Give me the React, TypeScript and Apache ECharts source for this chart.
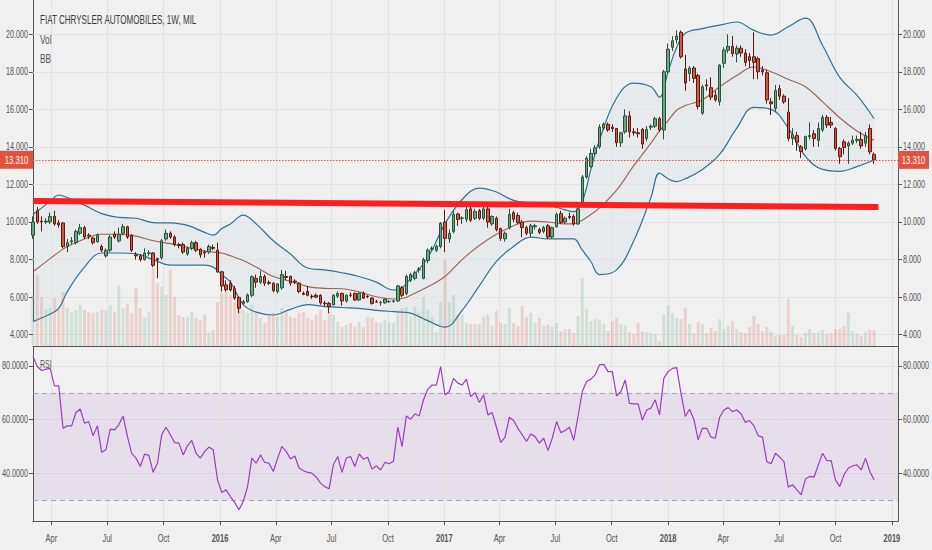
import React, { useEffect, useRef } from 'react';
import * as echarts from 'echarts';

const TITLE = 'FIAT CHRYSLER AUTOMOBILES, 1W, MIL';
const LEGEND = ['Vol', 'BB'];
const RSI_TITLE = 'RSI';
const START_DATE = '2015-03-02';
const X_MIN = '2015-03-02';
const X_MAX = '2019-01-11';
const X_TICKS = ['2015-04-01', '2015-07-01', '2015-10-01', '2016-01-01', '2016-04-01', '2016-07-01', '2016-10-01', '2017-01-01', '2017-04-01', '2017-07-01', '2017-10-01', '2018-01-01', '2018-04-01', '2018-07-01', '2018-10-01', '2019-01-01'];
const MONTHS = ['Jan', 'Feb', 'Mar', 'Apr', 'May', 'Jun', 'Jul', 'Aug', 'Sep', 'Oct', 'Nov', 'Dec'];
const PRICE_TICKS = [4, 6, 8, 10, 12, 14, 16, 18, 20];
const RSI_TICKS = [40, 60, 80];
const LAST_PRICE = 13.31;
const TREND_LINE: [string, number][] = [['2015-03-02', 11.12], ['2018-12-10', 10.8]];

const OPEN = [9.3, 10.6, 10.05, 10.0, 10.0, 10.3, 9.95, 9.95, 8.7, 8.95, 8.9, 9.4, 9.7, 9.3, 9.15, 8.95, 8.7, 8.2, 8.5, 9.35, 9.0, 9.4, 9.75, 9.3, 8.25, 8.2, 8.0, 8.33, 8.35, 8.05, 8.1, 9.1, 9.4, 9.2, 8.8, 8.8, 8.3, 8.6, 8.9, 8.55, 8.4, 8.4, 8.65, 8.5, 7.35, 6.65, 6.74, 6.45, 5.99, 5.66, 5.76, 6.1, 7.0, 6.8, 7.1, 6.78, 6.74, 6.3, 6.5, 7.1, 7.1, 6.85, 6.75, 6.2, 6.3, 6.05, 6.1, 6.1, 5.68, 5.67, 5.6, 6.05, 6.2, 5.8, 6.12, 6.2, 5.85, 6.2, 6.05, 5.95, 5.76, 5.71, 5.7, 5.76, 5.78, 5.8, 6.5, 6.2, 6.9, 7.0, 7.45, 7.0, 7.95, 8.55, 8.5, 8.7, 10.0, 9.1, 9.5, 10.43, 10.2, 10.15, 10.7, 10.2, 10.6, 10.2, 10.7, 9.9, 10.2, 9.65, 9.1, 9.7, 10.5, 10.35, 10.0, 9.7, 9.4, 9.75, 9.6, 9.5, 9.8, 9.2, 9.75, 10.45, 10.0, 10.3, 10.3, 9.9, 10.9, 12.4, 12.95, 13.65, 14.0, 15.0, 15.2, 15.05, 14.98, 14.22, 14.8, 15.65, 14.8, 14.75, 14.93, 14.45, 15.05, 15.1, 15.5, 14.9, 18.0, 19.3, 19.7, 20.1, 18.15, 17.9, 18.2, 17.8, 15.8, 17.3, 17.15, 16.75, 16.4, 18.45, 19.15, 19.35, 18.95, 19.25, 19.0, 18.8, 18.8, 18.7, 18.1, 17.95, 16.4, 16.05, 17.1, 16.7, 15.85, 14.45, 14.6, 14.0, 13.9, 14.55, 14.7, 14.35, 14.9, 15.57, 15.3, 14.98, 13.92, 14.27, 14.05, 14.2, 14.35, 14.4, 14.2, 14.98, 13.6];
const CLOSE = [10.0, 10.0, 10.0, 10.05, 10.3, 9.9, 9.85, 8.7, 8.9, 9.0, 9.5, 9.7, 9.2, 9.25, 8.9, 9.3, 8.5, 8.5, 9.2, 9.2, 9.35, 9.75, 9.2, 8.5, 8.2, 8.0, 8.35, 8.36, 7.7, 8.0, 9.0, 9.4, 9.2, 8.8, 8.75, 8.4, 8.6, 8.9, 8.5, 8.25, 8.35, 8.7, 8.6, 7.35, 6.6, 6.4, 6.38, 5.95, 5.41, 5.76, 6.12, 7.09, 6.8, 7.1, 6.74, 6.74, 6.35, 6.7, 7.2, 7.05, 6.75, 6.8, 6.3, 6.15, 6.1, 6.03, 6.0, 5.7, 5.65, 5.5, 6.1, 6.2, 5.8, 6.1, 6.1, 5.85, 6.2, 5.95, 6.03, 5.67, 5.75, 5.72, 5.9, 5.77, 5.8, 6.6, 6.1, 7.1, 7.2, 7.3, 7.5, 8.0, 8.5, 8.6, 8.7, 9.93, 9.13, 9.4, 10.4, 10.14, 10.22, 10.65, 10.1, 10.55, 10.2, 10.7, 10.0, 10.3, 9.6, 9.13, 9.4, 10.4, 10.15, 9.97, 9.7, 9.4, 9.8, 9.8, 9.45, 9.7, 9.2, 9.7, 10.4, 9.97, 10.2, 10.25, 9.9, 10.7, 12.4, 13.4, 13.65, 13.95, 15.05, 15.2, 14.9, 14.98, 14.22, 14.75, 15.65, 14.8, 14.75, 14.7, 14.15, 14.93, 15.1, 15.5, 14.9, 18.0, 19.2, 19.65, 19.9, 18.8, 17.4, 18.2, 17.65, 16.15, 17.2, 17.25, 16.65, 16.5, 18.35, 19.15, 19.35, 18.97, 19.25, 19.0, 18.5, 18.6, 18.5, 18.0, 18.0, 16.5, 16.3, 17.0, 16.7, 16.4, 14.45, 14.65, 14.25, 13.75, 14.55, 14.6, 14.45, 14.98, 15.57, 15.16, 15.16, 13.92, 13.48, 13.97, 14.2, 14.35, 14.4, 14.05, 14.6, 13.74, 13.31];
const LOW = [9.1, 9.9, 9.5, 9.9, 9.9, 9.8, 9.7, 8.6, 8.4, 8.8, 8.8, 9.3, 9.1, 9.1, 8.8, 8.9, 8.4, 8.1, 8.4, 9.1, 8.9, 9.3, 9.1, 8.4, 8.0, 7.9, 7.95, 8.2, 7.6, 7.0, 8.0, 9.0, 9.1, 8.7, 8.6, 8.3, 8.2, 8.5, 8.4, 8.1, 8.1, 8.3, 8.5, 7.3, 6.3, 6.3, 6.3, 5.85, 5.15, 5.6, 5.7, 6.0, 6.5, 6.7, 6.6, 6.65, 6.25, 6.2, 6.4, 6.9, 6.6, 6.7, 6.2, 6.1, 6.05, 5.9, 5.95, 5.6, 5.5, 5.15, 5.55, 5.95, 5.55, 5.7, 6.0, 5.8, 5.8, 5.9, 5.95, 5.6, 5.7, 5.55, 5.65, 5.7, 5.7, 5.75, 6.0, 6.1, 6.8, 6.9, 7.3, 6.95, 7.8, 8.45, 8.4, 8.6, 8.4, 8.9, 9.4, 9.8, 9.9, 10.0, 10.0, 10.1, 10.1, 10.1, 9.7, 9.8, 9.5, 9.0, 8.95, 9.6, 10.0, 9.9, 9.2, 9.3, 9.2, 9.6, 9.35, 9.4, 9.1, 9.1, 9.7, 9.9, 9.9, 10.15, 9.8, 9.85, 10.8, 12.3, 12.9, 13.5, 13.9, 14.9, 14.8, 14.8, 14.0, 14.0, 14.7, 14.5, 14.6, 14.5, 13.9, 14.3, 14.9, 15.0, 14.8, 14.4, 17.9, 19.1, 19.5, 18.7, 17.0, 17.5, 17.4, 16.0, 15.7, 17.0, 16.5, 16.4, 16.2, 18.2, 19.0, 18.8, 18.5, 18.8, 18.3, 18.2, 17.6, 17.6, 17.8, 16.3, 15.7, 15.9, 16.5, 16.3, 14.3, 14.1, 13.8, 13.4, 13.8, 14.4, 14.0, 14.0, 14.8, 15.0, 15.0, 13.8, 13.1, 13.6, 13.1, 14.1, 14.2, 13.9, 14.0, 13.6, 13.1];
const HIGH = [10.3, 10.8, 10.3, 10.2, 10.5, 10.6, 10.1, 10.0, 9.1, 9.2, 9.6, 9.9, 9.8, 9.4, 9.2, 9.4, 8.8, 8.6, 9.3, 9.5, 9.7, 9.9, 9.8, 9.35, 8.4, 8.3, 8.6, 8.5, 8.4, 8.1, 9.1, 9.6, 9.5, 9.3, 8.9, 8.9, 8.7, 9.0, 9.0, 8.6, 8.5, 8.8, 8.8, 8.9, 7.4, 6.9, 6.9, 6.6, 6.05, 5.85, 6.2, 7.15, 7.2, 7.4, 7.2, 6.9, 6.8, 6.75, 7.45, 7.4, 7.15, 6.95, 6.8, 6.3, 6.6, 6.15, 6.2, 6.15, 5.8, 5.75, 6.15, 6.3, 6.25, 6.15, 6.25, 6.25, 6.25, 6.3, 6.1, 6.0, 5.85, 5.8, 5.95, 5.85, 5.85, 6.65, 6.6, 7.2, 7.3, 7.4, 7.6, 8.1, 8.6, 8.7, 8.8, 10.0, 10.65, 9.6, 10.6, 10.5, 10.3, 10.9, 10.8, 10.7, 10.7, 10.8, 10.8, 10.35, 10.3, 9.7, 9.5, 10.7, 10.6, 10.5, 10.1, 9.8, 9.9, 9.9, 9.7, 9.8, 9.9, 9.75, 10.5, 10.6, 10.3, 10.5, 10.4, 10.75, 12.5, 13.5, 13.9, 14.1, 15.2, 15.3, 15.3, 15.2, 15.0, 14.8, 16.0, 15.9, 15.0, 15.0, 15.0, 15.1, 15.2, 15.6, 15.6, 18.1, 19.5, 19.9, 20.2, 20.2, 18.9, 18.3, 18.3, 17.9, 17.3, 17.6, 17.7, 17.0, 18.4, 19.3, 20.0, 19.9, 19.4, 19.4, 19.2, 19.0, 20.1, 18.8, 18.3, 18.1, 16.6, 17.3, 17.3, 16.8, 16.6, 15.0, 14.8, 14.1, 14.6, 15.3, 14.9, 15.3, 15.7, 15.7, 15.6, 15.05, 14.0, 14.4, 14.3, 14.6, 14.6, 14.8, 14.8, 15.2, 13.7];
const VOLUME = [50, 71, 49, 36, 38, 48, 36, 54, 38, 34, 36, 41, 36, 34, 33, 34, 36, 36, 41, 34, 60, 38, 42, 33, 58, 38, 29, 34, 78, 63, 59, 51, 76, 49, 31, 29, 29, 34, 28, 26, 31, 14, 16, 44, 53, 63, 51, 44, 38, 36, 33, 41, 33, 28, 23, 31, 33, 29, 38, 34, 29, 28, 33, 34, 28, 26, 31, 36, 26, 34, 31, 24, 19, 21, 23, 19, 24, 19, 29, 28, 24, 23, 26, 24, 23, 36, 38, 39, 29, 39, 33, 49, 36, 29, 14, 44, 86, 44, 51, 31, 32, 23, 22, 22, 22, 29, 31, 20, 35, 23, 22, 38, 23, 20, 40, 29, 33, 23, 28, 20, 21, 19, 23, 15, 17, 17, 13, 30, 68, 37, 25, 27, 26, 22, 15, 25, 28, 22, 20, 14, 12, 23, 15, 14, 13, 12, 5, 31, 41, 33, 28, 27, 38, 22, 13, 24, 22, 13, 18, 15, 27, 17, 20, 25, 17, 14, 13, 19, 30, 22, 15, 19, 14, 10, 11, 11, 47, 20, 11, 9, 13, 17, 13, 14, 16, 12, 13, 17, 17, 20, 33, 15, 12, 10, 14, 16, 16];
const RSI = [83.5, 79.8, 78.3, 78.8, 79.1, 72.6, 72.6, 56.8, 57.7, 57.7, 62.7, 64.0, 58.7, 59.3, 54.0, 57.7, 47.9, 48.8, 56.5, 56.2, 58.1, 61.4, 53.7, 47.5, 45.7, 42.6, 47.2, 46.7, 40.4, 43.8, 54.4, 57.2, 54.4, 51.5, 51.3, 46.9, 50.3, 52.3, 47.5, 45.7, 48.2, 49.8, 48.8, 37.6, 32.9, 33.9, 31.4, 29.2, 26.5, 29.6, 35.1, 45.7, 43.8, 46.9, 44.1, 43.8, 40.7, 45.7, 50.0, 48.2, 45.4, 46.5, 42.0, 41.0, 40.4, 40.1, 38.6, 36.4, 35.1, 34.3, 43.2, 46.3, 40.4, 45.7, 46.3, 42.6, 47.3, 45.3, 46.0, 41.6, 42.8, 41.3, 44.1, 43.6, 44.5, 57.2, 50.0, 61.4, 60.2, 62.2, 61.4, 67.4, 71.3, 72.9, 72.9, 79.8, 69.2, 70.5, 75.4, 73.6, 72.9, 75.1, 68.6, 70.1, 66.4, 69.2, 61.8, 62.7, 57.2, 51.5, 53.5, 60.9, 59.7, 56.8, 54.4, 51.9, 54.7, 53.7, 51.3, 53.1, 48.5, 53.1, 59.3, 55.2, 56.0, 57.2, 52.3, 61.2, 70.5, 74.2, 75.1, 76.7, 80.4, 80.6, 77.9, 77.9, 68.9, 70.5, 74.8, 66.1, 65.9, 65.9, 59.9, 63.6, 64.3, 67.4, 61.8, 75.4, 77.9, 79.1, 79.4, 69.8, 61.2, 63.9, 60.2, 52.5, 56.8, 56.8, 53.5, 53.1, 60.9, 63.6, 64.5, 63.0, 63.6, 62.2, 59.0, 59.7, 57.7, 54.0, 53.5, 44.4, 43.6, 47.5, 46.1, 44.4, 34.9, 35.8, 33.9, 32.0, 37.9, 38.9, 38.6, 43.2, 47.5, 44.8, 44.8, 37.6, 35.1, 39.5, 42.0, 42.8, 43.2, 41.3, 45.7, 40.7, 37.6];

const BB_WEEK = [0, 4, 6, 8, 12, 16, 20, 24, 28, 32, 36, 40, 42, 44, 46, 49, 52, 56, 60, 64, 68, 72, 76, 80, 84, 86, 88, 92, 96, 100, 104, 108, 112, 116, 120, 124, 126, 128, 130, 132, 136, 140, 144, 146, 148, 150, 152, 156, 160, 164, 168, 172, 176, 180, 184, 188, 192, 196];
const BB_UPPER = [10.4, 11.1, 11.44, 11.3, 10.9, 10.45, 10.25, 10.2, 9.97, 9.95, 9.82, 9.45, 9.3, 9.65, 9.9, 10.37, 9.9, 9.0, 8.3, 7.55, 7.45, 7.3, 7.1, 6.8, 6.38, 6.5, 7.0, 8.1, 9.9, 11.2, 11.8, 11.6, 11.15, 11.0, 10.9, 10.65, 10.55, 11.1, 12.8, 14.36, 16.6, 17.4, 17.2, 16.65, 18.0, 19.3, 20.05, 20.3, 20.48, 20.65, 20.2, 19.95, 20.4, 20.85, 19.4, 17.7, 16.75, 15.5];
const BB_BASIS = [7.35, 8.05, 8.4, 8.7, 9.1, 9.35, 9.35, 9.25, 9.0, 8.85, 8.65, 8.45, 8.4, 8.35, 8.2, 7.95, 7.6, 7.1, 6.85, 6.56, 6.47, 6.45, 6.28, 6.02, 5.9, 5.93, 6.1, 6.55, 7.1, 8.0, 8.75, 9.35, 9.8, 10.05, 10.0, 9.9, 9.9, 10.1, 10.4, 10.75, 11.7, 13.0, 14.2, 14.85, 15.4, 15.95, 16.2, 16.5, 17.2, 17.8, 18.25, 18.0, 17.6, 17.2, 16.4, 15.55, 14.85, 14.35];
const BB_LOWER = [4.7, 5.1, 5.4, 6.3, 7.6, 8.35, 8.35, 8.3, 8.0, 7.71, 7.71, 7.71, 7.6, 7.2, 6.8, 5.6, 5.2, 5.05, 5.35, 5.6, 5.5, 5.45, 5.4, 5.3, 5.23, 5.2, 5.15, 4.75, 4.4, 5.3, 6.6, 7.9, 8.7, 9.2, 9.1, 9.1, 9.1, 8.5, 7.9, 7.2, 7.45, 9.0, 11.3, 12.6, 12.3, 12.15, 12.3, 12.8, 13.6, 15.0, 16.1, 16.0, 15.0, 13.5, 12.8, 12.7, 12.95, 13.3];

const FONT = "'Liberation Sans', Arial, sans-serif";
const TXT = '#555';
const BG = '#f0f0f0';
const GRID_LINE = '#e2e2e2';
const BAND_LINE = '#2f7196';
const UP = '#6ba583';
const DOWN = '#d75442';
const PRICE_RED = '#e0533f';
const DAY = 86400000;
const GRID_L = 33;
const GRID_R = 34;
const WIDTH = 932;

const ts = (d: string) => new Date(d + 'T00:00:00Z').getTime();
const weekTs = (k: number) => ts(START_DATE) + k * 7 * DAY;

function buildOption() {
  const dates = CLOSE.map((_, k) => weekTs(k));
  const candles = dates.map((d, k) => [d, OPEN[k], CLOSE[k], LOW[k], HIGH[k]]);
  const vols = dates.map((d, k) => ({
    value: [d, VOLUME[k]],
    itemStyle: { color: CLOSE[k] >= OPEN[k] ? 'rgba(107,165,131,0.22)' : 'rgba(215,84,66,0.2)' },
  }));
  const rsi = dates.map((d, k) => [d, RSI[k]]);
  const bbDates = BB_WEEK.map((k) => weekTs(k));
  const upper = bbDates.map((d, i) => [d, BB_UPPER[i]]);
  const lower = bbDates.map((d, i) => [d, BB_LOWER[i]]);
  const basis = bbDates.map((d, i) => [d, BB_BASIS[i]]);
  const xTicks = X_TICKS.map(ts);
  const gridStyle = { color: GRID_LINE, type: 'solid', width: 1 };
  const vGrid = xTicks.map((d) => ({ xAxis: d, lineStyle: gridStyle }));
  const hGrid = PRICE_TICKS.map((v) => ({ yAxis: v, lineStyle: gridStyle }));
  const xMin = ts(X_MIN);
  const xMax = ts(X_MAX);

  const valueAxis = (grid: number, pos: 'left' | 'right', min: number, max: number, ticks: number[], split: boolean) => ({
    type: 'value', gridIndex: grid, position: pos, min, max,
    axisLine: { show: true, lineStyle: { color: TXT } },
    axisTick: { show: true, length: 4, lineStyle: { color: TXT }, customValues: ticks },
    axisLabel: { show: false },
    splitLine: { show: split, lineStyle: { color: GRID_LINE } },
  });

  const bandLine = (name: string, data: any[], z: number, area?: any) => ({
    name, type: 'line', xAxisIndex: 0, yAxisIndex: 0, data, smooth: 0.4, symbol: 'none', z, silent: true,
    lineStyle: area ? { width: 0, opacity: 0 } : { color: BAND_LINE, width: 1.2 },
    ...(area ? { areaStyle: area } : {}),
  });

  return {
    animation: false,
    backgroundColor: BG,
    grid: [
      { left: GRID_L, right: GRID_R, top: 0, height: 346, outerBoundsMode: 'none', containLabel: false },
      { left: GRID_L, right: GRID_R, top: 220, height: 126, outerBoundsMode: 'none', containLabel: false },
      { left: GRID_L, right: GRID_R, top: 347, height: 174, outerBoundsMode: 'none', containLabel: false },
    ],
    xAxis: [
      { type: 'value', gridIndex: 0, min: xMin, max: xMax, axisLine: { show: true, onZero: false, lineStyle: { color: TXT } }, axisTick: { show: false }, axisLabel: { show: false }, splitLine: { show: false } },
      { type: 'value', gridIndex: 1, min: xMin, max: xMax, show: false, splitLine: { show: false } },
      {
        type: 'value', gridIndex: 2, min: xMin, max: xMax,
        axisLine: { show: true, onZero: false, lineStyle: { color: TXT } },
        axisTick: { show: true, length: 4, lineStyle: { color: TXT }, customValues: xTicks },
        axisLabel: { show: false },
        splitLine: { show: false },
      },
    ],
    yAxis: [
      valueAxis(0, 'left', 3.4, 21.82, PRICE_TICKS, false),
      valueAxis(0, 'right', 3.4, 21.82, PRICE_TICKS, false),
      { type: 'value', gridIndex: 1, min: 0, max: 126, show: false, splitLine: { show: false } },
      valueAxis(2, 'left', 22.3, 87.06, RSI_TICKS, true),
      valueAxis(2, 'right', 22.3, 87.06, RSI_TICKS, false),
    ],
    series: [
      bandLine('BB upper fill', upper, 1, { color: 'rgba(40,120,160,0.07)' }),
      bandLine('BB lower fill', lower, 1, { color: BG, opacity: 1 }),
      {
        name: 'BB basis', type: 'line', xAxisIndex: 0, yAxisIndex: 0, data: basis, smooth: 0.4, symbol: 'none',
        lineStyle: { color: '#a0624e', width: 1.1 }, z: 1.5, silent: true,
        markLine: { z: 1.2, silent: true, symbol: ['none', 'none'], label: { show: false }, data: [...hGrid, ...vGrid] },
      },
      bandLine('BB upper', upper, 2),
      bandLine('BB lower', lower, 2),
      {
        name: 'Volume', type: 'bar', xAxisIndex: 1, yAxisIndex: 2, data: vols, barWidth: 3, z: 3, silent: true,
      },
      {
        name: 'FCA', type: 'candlestick', xAxisIndex: 0, yAxisIndex: 0, data: candles, barWidth: 3, z: 5,
        itemStyle: { color: UP, color0: DOWN, borderColor: '#225437', borderColor0: '#5b1a13', borderWidth: 1 },
        markLine: {
          z: 6, silent: true, symbol: ['none', 'none'], label: { show: false },
          lineStyle: { color: PRICE_RED, type: [1.5, 1.5], width: 1, opacity: 1 },
          data: [{ yAxis: LAST_PRICE, lineStyle: { color: PRICE_RED, type: [1.5, 1.5], width: 1, opacity: 1 } }],
        },
      },
      {
        name: 'Trend', type: 'line', xAxisIndex: 0, yAxisIndex: 0, data: TREND_LINE.map(([d, v]) => [ts(d), v]), symbol: 'none',
        lineStyle: { color: '#ff1e1e', width: 6 }, z: 8, silent: true,
      },
      {
        name: 'RSI', type: 'line', xAxisIndex: 2, yAxisIndex: 3, data: rsi, symbol: 'none',
        lineStyle: { color: '#9d3fba', width: 1.2 }, z: 4, silent: true,
        markArea: { z: 1, silent: true, itemStyle: { color: 'rgba(150,80,200,0.1)' }, data: [[{ yAxis: 30 }, { yAxis: 70 }]] },
        markLine: {
          z: 2, silent: true, symbol: ['none', 'none'], label: { show: false },
          data: [
            ...vGrid,
            { yAxis: 30, lineStyle: { color: '#a8a8a8', type: [5, 4], width: 1 } },
            { yAxis: 70, lineStyle: { color: '#a8a8a8', type: [5, 4], width: 1 } },
          ],
        },
      },
    ],
  };
}

function text(x: number, y: number, s: string, opts: any = {}) {
  return {
    type: 'text', x, y, scaleX: opts.scaleX ?? 0.72, z: 100,
    style: {
      text: s, fill: opts.fill ?? TXT, font: `${opts.weight ?? 'normal'} ${opts.size ?? 10}px ${FONT}`,
      align: opts.align ?? 'left', verticalAlign: 'middle',
    },
  };
}

function buildGraphics(chart: any) {
  const xRight = WIDTH - GRID_R;
  const g: any[] = [
    text(40, 19, TITLE, { size: 13, scaleX: 0.62, fill: '#3c3c3c' }),
    text(40, 39, LEGEND[0], { size: 13, scaleX: 0.64 }),
    text(40, 58, LEGEND[1], { size: 13, scaleX: 0.64 }),
    text(40, 364, RSI_TITLE, { size: 11, scaleX: 0.64 }),
  ];
  PRICE_TICKS.forEach((v) => {
    const y = chart.convertToPixel({ yAxisIndex: 0 }, v);
    g.push(text(GRID_L - 5, y, v.toFixed(3), { align: 'right' }));
    g.push(text(xRight + 5, y, v.toFixed(3)));
  });
  RSI_TICKS.forEach((v) => {
    const y = chart.convertToPixel({ yAxisIndex: 3 }, v);
    g.push(text(GRID_L - 5, y, v.toFixed(4), { align: 'right' }));
    g.push(text(xRight + 5, y, v.toFixed(4)));
  });
  const yBottom = chart.convertToPixel({ yAxisIndex: 3 }, 22.3);
  X_TICKS.forEach((d) => {
    const t = ts(d);
    const x = chart.convertToPixel({ xAxisIndex: 2 }, t);
    const dt = new Date(t);
    const m = dt.getUTCMonth();
    const s = m === 0 ? String(dt.getUTCFullYear()) : MONTHS[m];
    g.push(text(x, yBottom + 17, s, { align: 'center', size: 11, scaleX: 0.68, weight: m === 0 ? 'bold' : 'normal' }));
  });
  const yp = chart.convertToPixel({ yAxisIndex: 0 }, LAST_PRICE);
  const label = LAST_PRICE.toFixed(3);
  g.push({ type: 'rect', z: 99, shape: { x: 0, y: yp - 9, width: GRID_L, height: 18 }, style: { fill: PRICE_RED } });
  g.push(text(GRID_L / 2, yp + 0.5, label, { align: 'center', fill: '#fff', size: 11, scaleX: 0.7 }));
  g.push({ type: 'rect', z: 99, shape: { x: xRight, y: yp - 9, width: 31, height: 18 }, style: { fill: PRICE_RED } });
  g.push(text(xRight + 15.5, yp + 0.5, label, { align: 'center', fill: '#fff', size: 11, scaleX: 0.7 }));
  return g;
}

export default function App() {
  const ref = useRef<HTMLDivElement>(null);
  useEffect(() => {
    if (!ref.current) return;
    const chart = echarts.init(ref.current, undefined, { renderer: 'svg' });
    chart.setOption(buildOption() as any);
    chart.setOption({ graphic: buildGraphics(chart) } as any);
    return () => chart.dispose();
  }, []);
  return <div ref={ref} style={{ position: 'fixed', left: 0, top: 0, width: 932, height: 550 }} />;
}
